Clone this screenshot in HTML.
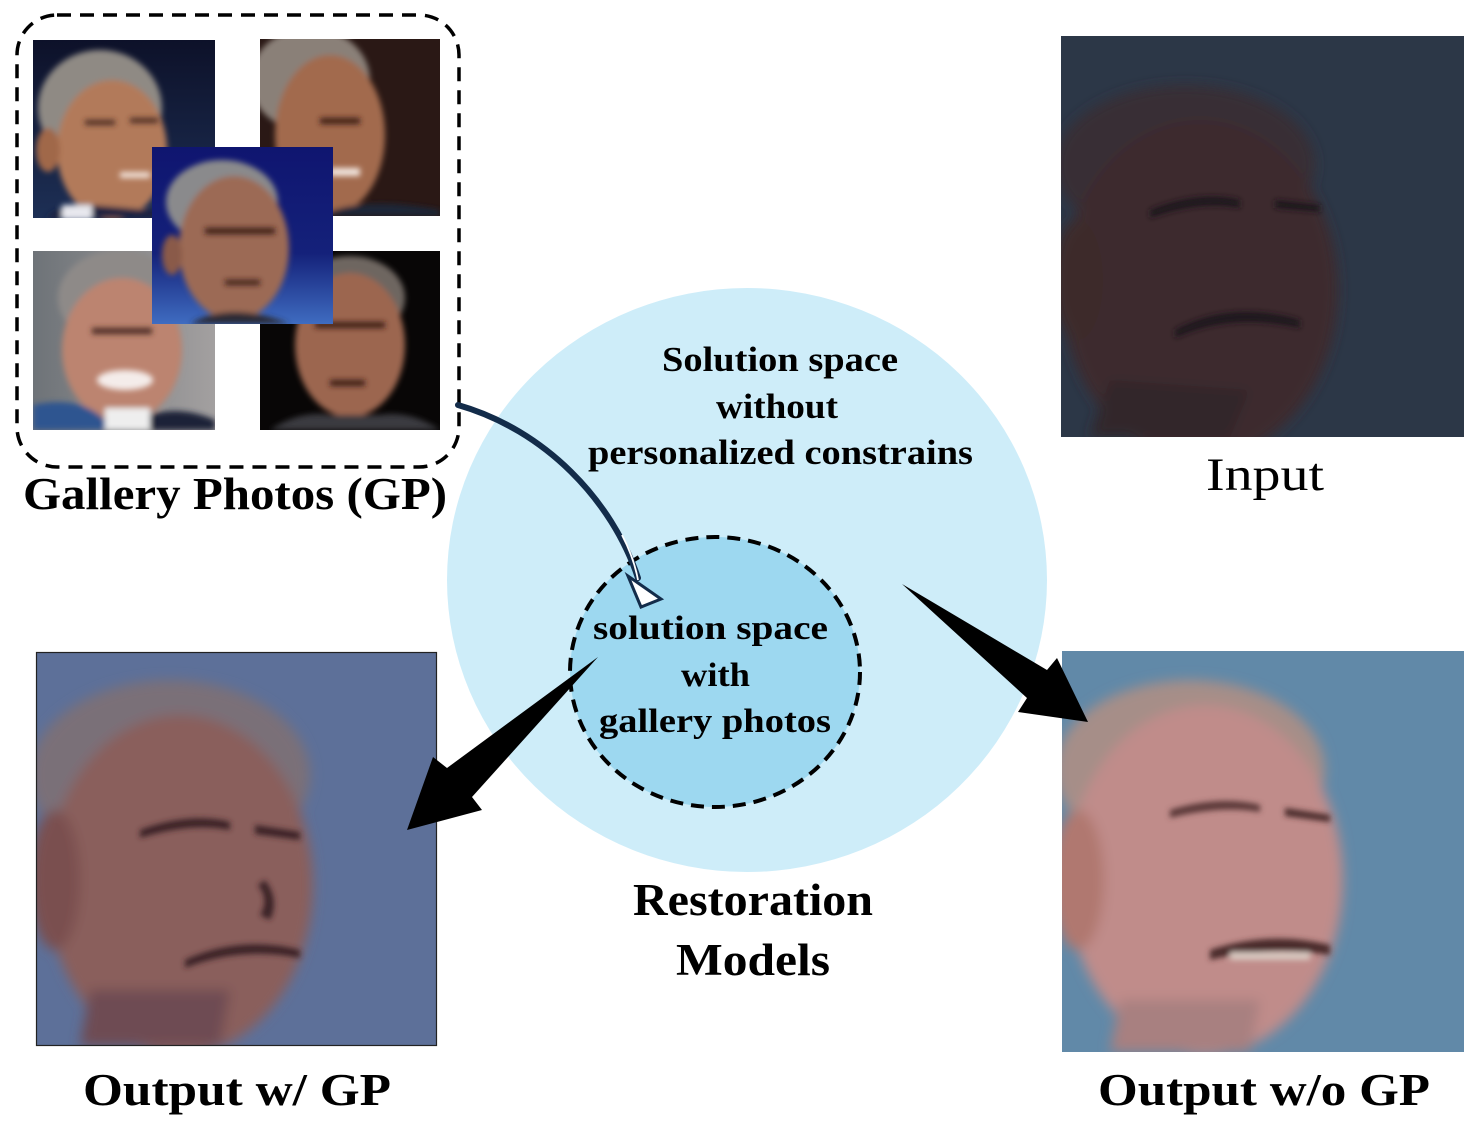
<!DOCTYPE html>
<html>
<head>
<meta charset="utf-8">
<style>
  html,body{margin:0;padding:0;background:#ffffff;}
  body{width:1473px;height:1129px;overflow:hidden;}
  svg{display:block;}
  .t{font-family:"Liberation Serif",serif;font-weight:bold;fill:#000;}
  .r{font-family:"Liberation Serif",serif;font-weight:normal;fill:#000;}
</style>
</head>
<body>
<svg width="1473" height="1129" viewBox="0 0 1473 1129" xmlns="http://www.w3.org/2000/svg">
  <defs>
    <filter id="blur" x="-20%" y="-20%" width="140%" height="140%"><feGaussianBlur stdDeviation="6"/></filter>
    <filter id="blurF" x="-20%" y="-20%" width="140%" height="140%"><feGaussianBlur stdDeviation="3"/></filter>
    <filter id="blurS" x="-20%" y="-20%" width="140%" height="140%"><feGaussianBlur stdDeviation="3"/></filter>
    <clipPath id="cTL"><rect x="33" y="40" width="182" height="178"/></clipPath>
    <clipPath id="cTR"><rect x="260" y="39" width="180" height="177"/></clipPath>
    <clipPath id="cC"><rect x="152" y="147" width="181" height="177"/></clipPath>
    <clipPath id="cBL"><rect x="33" y="251" width="182" height="179"/></clipPath>
    <clipPath id="cBR"><rect x="260" y="251" width="180" height="179"/></clipPath>
    <clipPath id="cIn"><rect x="1061" y="36" width="403" height="401"/></clipPath>
    <clipPath id="cWo"><rect x="1062" y="651" width="402" height="401"/></clipPath>
    <clipPath id="cW"><rect x="36" y="652" width="401" height="394"/></clipPath>
    <linearGradient id="gTL" x1="0" y1="0" x2="0" y2="1"><stop offset="0" stop-color="#0d1129"/><stop offset="1" stop-color="#1d2f55"/></linearGradient>
    <linearGradient id="gC" x1="0" y1="0" x2="0" y2="1"><stop offset="0" stop-color="#0f1570"/><stop offset="0.6" stop-color="#14217a"/><stop offset="1" stop-color="#3f6cc0"/></linearGradient>
    <linearGradient id="gBL" x1="0" y1="0" x2="1" y2="0"><stop offset="0" stop-color="#6e7378"/><stop offset="1" stop-color="#a3a0a0"/></linearGradient>
  </defs>

  <!-- Big solution space circle -->
  <ellipse cx="747" cy="580" rx="300" ry="292" fill="#ceedf9"/>
  <!-- Inner dashed circle -->
  <ellipse cx="715" cy="672" rx="145" ry="135" fill="#9dd8f0" stroke="#000" stroke-width="4" stroke-dasharray="13 8"/>

  <!-- Gallery photos -->
  <g clip-path="url(#cTL)">
    <rect x="33" y="40" width="182" height="178" fill="url(#gTL)"/>
    <g filter="url(#blurS)">
      <ellipse cx="100" cy="108" rx="62" ry="58" fill="#8f8a84"/>
      <ellipse cx="112" cy="150" rx="55" ry="70" fill="#b27a5a"/>
      <ellipse cx="48" cy="150" rx="12" ry="22" fill="#a06848"/>
      <path d="M45,218 Q70,200 90,205 L150,210 Q180,205 215,218 Z" fill="#1a2240"/>
      <rect x="62" y="205" width="30" height="15" fill="#e8e8ee"/>
    </g>
    <g filter="url(#blurF)" fill="#4a2a20">
      <rect x="85" y="120" width="30" height="5"/><rect x="130" y="118" width="28" height="5"/>
      <rect x="120" y="172" width="30" height="6" fill="#f0e0d8"/>
    </g>
  </g>
  <g clip-path="url(#cTR)">
    <rect x="260" y="39" width="180" height="177" fill="#2a1815"/>
    <g filter="url(#blurS)">
      <ellipse cx="310" cy="80" rx="60" ry="52" fill="#8a8078"/>
      <ellipse cx="330" cy="135" rx="55" ry="80" fill="#a26a4e"/>
      <path d="M320,216 Q360,195 440,210 L440,216 Z" fill="#1e2638"/>
    </g>
    <g filter="url(#blurF)" fill="#3a1e18">
      <rect x="320" y="118" width="40" height="6"/>
      <rect x="330" y="168" width="30" height="8" fill="#f2e6e0"/>
    </g>
  </g>
  <g clip-path="url(#cBL)">
    <rect x="33" y="251" width="182" height="179" fill="url(#gBL)"/>
    <g filter="url(#blurS)">
      <ellipse cx="120" cy="298" rx="62" ry="48" fill="#8e8a88"/>
      <ellipse cx="122" cy="350" rx="60" ry="72" fill="#bc8470"/>
      <path d="M33,430 L33,405 Q80,395 105,420 L105,430 Z" fill="#2f5490"/>
      <rect x="105" y="408" width="45" height="22" fill="#eeeeee"/>
      <path d="M150,430 L150,415 Q180,405 215,420 L215,430 Z" fill="#1a2238"/>
    </g>
    <g filter="url(#blurF)">
      <rect x="92" y="328" width="60" height="6" fill="#4a2a22"/>
      <ellipse cx="125" cy="380" rx="28" ry="10" fill="#f4ecea"/>
    </g>
  </g>
  <g clip-path="url(#cBR)">
    <rect x="260" y="251" width="180" height="179" fill="#080606"/>
    <g filter="url(#blurS)">
      <ellipse cx="350" cy="298" rx="55" ry="42" fill="#6e6660"/>
      <ellipse cx="350" cy="345" rx="55" ry="72" fill="#9c6650"/>
      <path d="M270,430 Q300,410 330,415 L380,415 Q410,410 440,430 Z" fill="#3a3a40"/>
    </g>
    <g filter="url(#blurF)" fill="#3a1e18">
      <rect x="315" y="322" width="70" height="6"/>
      <rect x="330" y="380" width="35" height="6"/>
    </g>
  </g>
  <g clip-path="url(#cC)">
    <rect x="152" y="147" width="181" height="177" fill="url(#gC)"/>
    <g filter="url(#blurS)">
      <ellipse cx="222" cy="202" rx="56" ry="42" fill="#8a8a8c"/>
      <ellipse cx="234" cy="248" rx="55" ry="72" fill="#9c6a55"/>
      <ellipse cx="172" cy="255" rx="10" ry="20" fill="#8a5a48"/>
      <path d="M190,324 Q230,300 290,324 Z" fill="#2a2a35"/>
    </g>
    <g filter="url(#blurF)" fill="#3a1e18">
      <rect x="205" y="228" width="70" height="6"/>
      <rect x="225" y="280" width="35" height="5"/>
    </g>
  </g>

  <!-- Gallery dashed box -->
  <rect x="17" y="15" width="442" height="452" rx="40" ry="40" fill="none" stroke="#000" stroke-width="3.5" stroke-dasharray="14 9"/>

  <!-- Input photo -->
  <g clip-path="url(#cIn)">
    <rect x="1061" y="36" width="403" height="401" fill="#2c3747"/>
    <g filter="url(#blur)">
      <ellipse cx="1185" cy="165" rx="130" ry="80" fill="#372e36"/>
      <ellipse cx="1200" cy="290" rx="138" ry="170" fill="#3d2b2f"/>
      <ellipse cx="1078" cy="280" rx="25" ry="60" fill="#3c2a2c"/>
      <path d="M1090,437 L1110,380 L1250,390 L1230,437 Z" fill="#33262a"/>
    </g>
    <g filter="url(#blurF)" fill="#1f161a">
      <path d="M1150,210 Q1200,190 1240,200 L1240,208 Q1200,200 1150,218 Z"/>
      <path d="M1275,200 L1320,205 L1320,212 L1275,208 Z"/>
      <path d="M1175,330 Q1230,300 1300,320 L1300,328 Q1230,312 1175,338 Z"/>
    </g>
  </g>

  <!-- Output w/o GP photo -->
  <g clip-path="url(#cWo)">
    <rect x="1062" y="651" width="402" height="401" fill="#6189a8"/>
    <g filter="url(#blur)">
      <ellipse cx="1190" cy="770" rx="135" ry="90" fill="#a68e88"/>
      <ellipse cx="1205" cy="880" rx="138" ry="175" fill="#c08c8a"/>
      <ellipse cx="1078" cy="880" rx="26" ry="70" fill="#b07870"/>
      <path d="M1110,1052 L1120,1000 L1260,1000 L1250,1052 Z" fill="#a88080"/>
    </g>
    <g filter="url(#blurF)">
      <path d="M1170,810 Q1220,795 1260,805 L1260,812 Q1220,805 1170,818 Z" fill="#5a3838"/>
      <path d="M1285,808 L1330,815 L1330,822 L1285,816 Z" fill="#4a2a2a"/>
      <path d="M1210,950 Q1270,930 1330,945 L1330,955 Q1270,945 1210,960 Z" fill="#4a2a2a"/>
      <rect x="1230" y="952" width="80" height="8" fill="#d8c8c0"/>
    </g>
  </g>

  <!-- Output w/ GP photo -->
  <g clip-path="url(#cW)">
    <rect x="36" y="652" width="401" height="394" fill="#5d7099"/>
    <g filter="url(#blur)">
      <ellipse cx="170" cy="775" rx="140" ry="95" fill="#7a7078"/>
      <ellipse cx="180" cy="885" rx="133" ry="170" fill="#8a5e5c"/>
      <ellipse cx="55" cy="880" rx="25" ry="70" fill="#7a5050"/>
      <path d="M80,1046 L90,990 L230,990 L220,1046 Z" fill="#6e4c52"/>
    </g>
    <g filter="url(#blurF)" fill="#3a2226">
      <path d="M140,830 Q190,812 230,822 L230,830 Q190,822 140,838 Z"/>
      <path d="M255,825 L300,832 L300,840 L255,834 Z"/>
      <path d="M185,960 Q240,935 300,950 L300,958 Q240,946 185,968 Z"/>
      <path d="M265,880 Q280,900 270,920 L260,915 Q270,900 258,885 Z"/>
    </g>
  </g>
  <rect x="36.5" y="652.5" width="400" height="393" fill="none" stroke="#222" stroke-width="1.2"/>

  <!-- Curved arrow from gallery to inner circle -->
  <path d="M458,405 C545,430 612,500 638,578" fill="none" stroke="#132c4a" stroke-width="6" stroke-linecap="round"/>
  <path d="M622,535 Q634,558 638,580" fill="none" stroke="#ffffff" stroke-width="1.8"/>
  <polygon points="628,576 641,607 661,599" fill="#ffffff" stroke="#132c4a" stroke-width="3" stroke-linejoin="miter"/>

  <!-- Left arrow -->
  <polygon points="598,657 447,768 433,757 407,830 482,810 472,797" fill="#000"/>
  <!-- Right arrow -->
  <polygon points="902,584 1047,670 1057,658 1088,722 1018,712 1027,698" fill="#000"/>

  <!-- Text -->
  <text class="t" x="23" y="509" font-size="46" textLength="424" lengthAdjust="spacingAndGlyphs">Gallery Photos (GP)</text>

  <text class="t" x="662" y="371" font-size="35" textLength="236" lengthAdjust="spacingAndGlyphs">Solution space</text>
  <text class="t" x="716" y="418" font-size="35" textLength="122" lengthAdjust="spacingAndGlyphs">without</text>
  <text class="t" x="588" y="464" font-size="35" textLength="385" lengthAdjust="spacingAndGlyphs">personalized constrains</text>

  <text class="t" x="593" y="639" font-size="34" textLength="235" lengthAdjust="spacingAndGlyphs">solution space</text>
  <text class="t" x="681" y="686" font-size="34" textLength="69" lengthAdjust="spacingAndGlyphs">with</text>
  <text class="t" x="599" y="732" font-size="34" textLength="232" lengthAdjust="spacingAndGlyphs">gallery photos</text>

  <text class="t" x="633" y="915" font-size="45" textLength="240" lengthAdjust="spacingAndGlyphs">Restoration</text>
  <text class="t" x="676" y="975" font-size="45" textLength="154" lengthAdjust="spacingAndGlyphs">Models</text>

  <text class="r" x="1206" y="490" font-size="47" textLength="118" lengthAdjust="spacingAndGlyphs">Input</text>

  <text class="t" x="83" y="1105" font-size="46" textLength="308" lengthAdjust="spacingAndGlyphs">Output w/ GP</text>
  <text class="t" x="1098" y="1105" font-size="46" textLength="332" lengthAdjust="spacingAndGlyphs">Output w/o GP</text>
</svg>
</body>
</html>
